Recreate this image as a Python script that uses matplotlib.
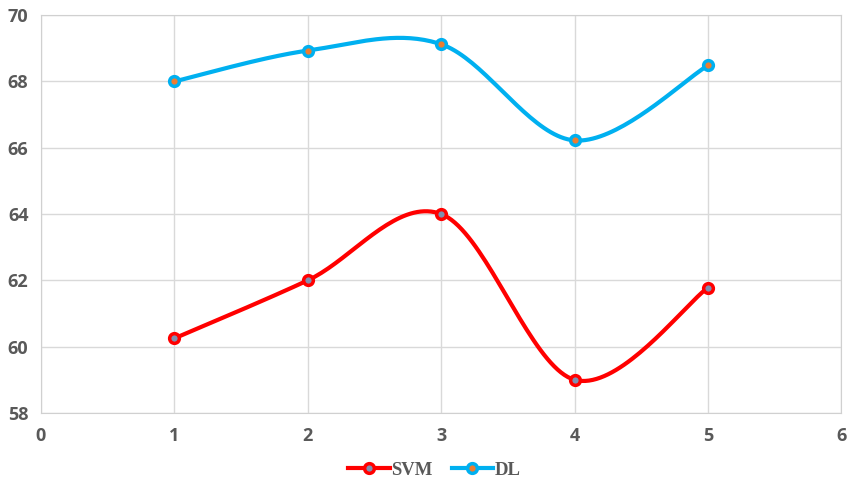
import numpy as np
import matplotlib
matplotlib.use("Agg")
from matplotlib import pyplot as plt
from matplotlib.lines import Line2D

# data
runs = [1, 2, 3, 4, 5]
svm = [60.25, 62.0, 64.0, 59.0, 61.78]
dl = [68.0, 68.93, 69.12, 66.22, 68.48]


def smooth(xs, ys, n=40):
    # excel-style smoothed line: bezier segments with catmull-rom control points
    pts = np.column_stack([xs, ys]).astype(float)
    out = []
    for i in range(len(pts) - 1):
        p0 = pts[i - 1] if i > 0 else pts[i]
        p1 = pts[i]
        p2 = pts[i + 1]
        p3 = pts[i + 2] if i + 2 < len(pts) else pts[i + 1]
        c1 = p1 + (p2 - p0) / 6
        c2 = p2 - (p3 - p1) / 6
        t = np.linspace(0, 1, n)[:, None]
        seg = ((1 - t) ** 3) * p1 + 3 * ((1 - t) ** 2) * t * c1 + 3 * (1 - t) * t ** 2 * c2 + t ** 3 * p2
        out.append(seg if i == 0 else seg[1:])
    out = np.vstack(out)
    return out[:, 0], out[:, 1]


fig = plt.figure(figsize=(8.47, 4.87), dpi=100)
ax = fig.add_axes([0.0484, 0.152, 0.945, 0.817])

series = [
    ("SVM", svm, "#ff0000", "#7f8fb0"),
    ("DL", dl, "#00b0f0", "#ed7d31"),
]
handles = []
for name, vals, col, fill in series:
    sx, sy = smooth(runs, vals)
    ax.plot(sx, sy, color=col, lw=3, solid_capstyle="round", zorder=3)
    ax.plot(runs, vals, ls="none", marker="o", ms=7, mfc=fill, mec=col, mew=2.5, zorder=4)
    handles.append(Line2D([], [], color=col, lw=3, marker="o", ms=7, mfc=fill, mec=col, mew=2.5))

ax.set_xlim(0, 6)
ax.set_ylim(58, 70)
ax.set_xticks(range(0, 7))
ax.set_yticks(range(58, 71, 2))
ax.grid(True, color="#d9d9d9", lw=1)
ax.set_axisbelow(True)
for s in ax.spines.values():
    s.set_color("#d0d0d0")
ax.tick_params(length=0, labelsize=13, labelcolor="#595959")
ax.tick_params(axis="x", pad=10)
ax.tick_params(axis="y", pad=9)
for lab in ax.get_xticklabels() + ax.get_yticklabels():
    lab.set_fontfamily("Open Sans")
    lab.set_fontweight("bold")

fig.legend(handles, [s[0] for s in series], loc="center", bbox_to_anchor=(0.513, 0.035),
           ncol=2, frameon=False, handlelength=2.2, columnspacing=1.0, handletextpad=0.1,
           prop={"family": "Liberation Serif", "weight": "bold", "size": 13.5})
for t in fig.legends[0].get_texts():
    t.set_color("#595959")

fig.savefig("out.png", dpi=100)
